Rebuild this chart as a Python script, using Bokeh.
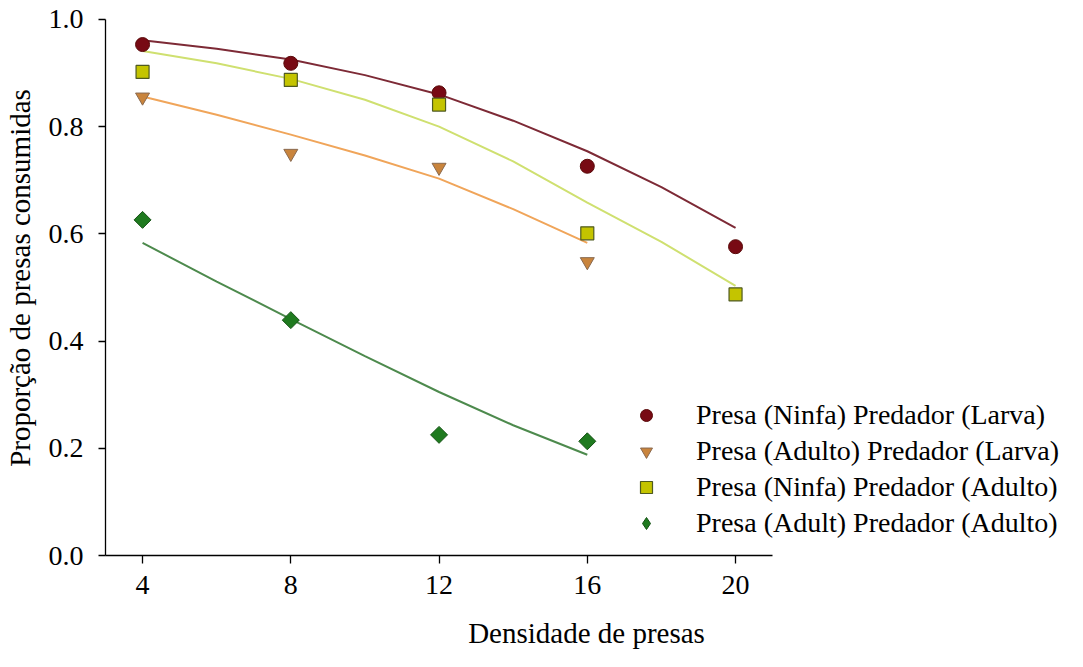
import math
from bokeh.plotting import figure
from bokeh.models import Range1d, FixedTicker, PrintfTickFormatter, Legend, LegendItem
from bokeh.embed import file_html
from bokeh.resources import INLINE

# ---- data ----
density = [4, 8, 12, 16, 20]
density_adult = [4, 8, 12, 16]

ninfa_larva = [0.953, 0.918, 0.863, 0.726, 0.576]
adulto_larva = [0.855, 0.750, 0.724, 0.548]
ninfa_adulto = [0.902, 0.887, 0.841, 0.601, 0.487]
adult_adulto = [0.626, 0.439, 0.225, 0.213]

# fitted curves
curve_x = [4, 6, 8, 10, 12, 14, 16, 18, 20]
curve_ninfa_larva = [0.961, 0.945, 0.925, 0.896, 0.860, 0.811, 0.754, 0.687, 0.611]
curve_ninfa_adulto = [0.941, 0.918, 0.889, 0.850, 0.800, 0.735, 0.658, 0.585, 0.503]
curve_x_adult = [4, 6, 8, 10, 12, 14, 16]
curve_adulto_larva = [0.856, 0.822, 0.785, 0.746, 0.703, 0.646, 0.583]
curve_adult_adulto = [0.583, 0.511, 0.441, 0.372, 0.305, 0.243, 0.188]

labels = ["Presa (Ninfa) Predador (Larva)",
          "Presa (Adulto) Predador (Larva)",
          "Presa (Ninfa) Predador (Adulto)",
          "Presa (Adult) Predador (Adulto)"]

x_ticks = [4, 8, 12, 16, 20]
y_ticks = [0.0, 0.2, 0.4, 0.6, 0.8, 1.0]

FONT = "Liberation Serif"
W, H = 1067, 651
left, right, top, bottom = 104, 0, 0, 92
frame_w = W - left - right
frame_h = H - top - bottom
px_x = 37.1
px_y = 540.0
x0 = 3.0

p = figure(width=W, height=H, output_backend="svg", toolbar_location=None,
           x_range=Range1d(x0, x0 + frame_w / px_x),
           y_range=Range1d(0, frame_h / px_y),
           min_border_left=left, min_border_right=right,
           min_border_top=top, min_border_bottom=bottom)
p.outline_line_color = None
p.xgrid.visible = False
p.ygrid.visible = False
p.background_fill_color = "white"

# curves
p.line(curve_x, curve_ninfa_larva, line_color="#7d2a36", line_width=2)
p.line(curve_x_adult, curve_adulto_larva, line_color="#f0a55a", line_width=2)
p.line(curve_x, curve_ninfa_adulto, line_color="#cfe070", line_width=2)
p.line(curve_x_adult, curve_adult_adulto, line_color="#4d8a4d", line_width=2)

# points
r1 = p.scatter(density, ninfa_larva, marker="circle", size=14,
               fill_color="#780a14", line_color="#5a0a0a", line_width=1)
r2 = p.scatter(density_adult, adulto_larva, marker="inverted_triangle", size=14,
               fill_color="#c9843c", line_color="#8a6a50", line_width=1)
r3 = p.scatter(density, ninfa_adulto, marker="square", size=13,
               fill_color="#c4c400", line_color="#4f5a20", line_width=1.2)
# diamond series: a small diamond (used by the legend) under a rotated square
r4 = p.scatter(density_adult, adult_adulto, marker="diamond", size=11,
               fill_color="#1f7a1f", line_color="#145214", line_width=1)
p.scatter(density_adult, adult_adulto, marker="square", size=12, angle=math.pi / 4,
          fill_color="#1f7a1f", line_color="#145214", line_width=1)

legend = Legend(items=[LegendItem(label=labels[0], renderers=[r1]),
                       LegendItem(label=labels[1], renderers=[r2]),
                       LegendItem(label=labels[2], renderers=[r3]),
                       LegendItem(label=labels[3], renderers=[r4])],
                location=(526, 14), padding=0, margin=0, spacing=0,
                glyph_width=30, glyph_height=36, label_height=36,
                label_standoff=35,
                label_text_font=FONT, label_text_font_size="28px",
                label_text_color="black",
                background_fill_alpha=0, border_line_color=None)
p.add_layout(legend, "center")

# axes
for ax in (p.xaxis[0], p.yaxis[0]):
    ax.axis_line_color = "black"
    ax.axis_line_width = 1.3
    ax.major_tick_line_color = "black"
    ax.major_tick_line_width = 1.3
    ax.minor_tick_line_color = None
    ax.major_tick_in = 0
    ax.major_label_text_font = FONT
    ax.major_label_text_font_size = "28px"
    ax.major_label_text_color = "black"
    ax.axis_label_text_font = FONT
    ax.axis_label_text_font_size = "29px"
    ax.axis_label_text_font_style = "normal"
    ax.axis_label_text_color = "black"

p.xaxis.ticker = FixedTicker(ticks=x_ticks)
p.xaxis.bounds = (3.0, 21.0)
p.xaxis.major_tick_out = 8
p.xaxis.major_label_standoff = 12
p.xaxis.axis_label = "Densidade de presas"
p.xaxis.axis_label_standoff = 20

p.yaxis.ticker = FixedTicker(ticks=y_ticks)
p.yaxis.formatter = PrintfTickFormatter(format="%.1f")
p.yaxis.bounds = (0.0, 1.0)
p.yaxis.major_tick_out = 7
p.yaxis.major_label_standoff = 15
p.yaxis.axis_label = "Proporção de presas consumidas"
p.yaxis.axis_label_standoff = 10

open("out.html", "w").write(file_html(p, INLINE))
